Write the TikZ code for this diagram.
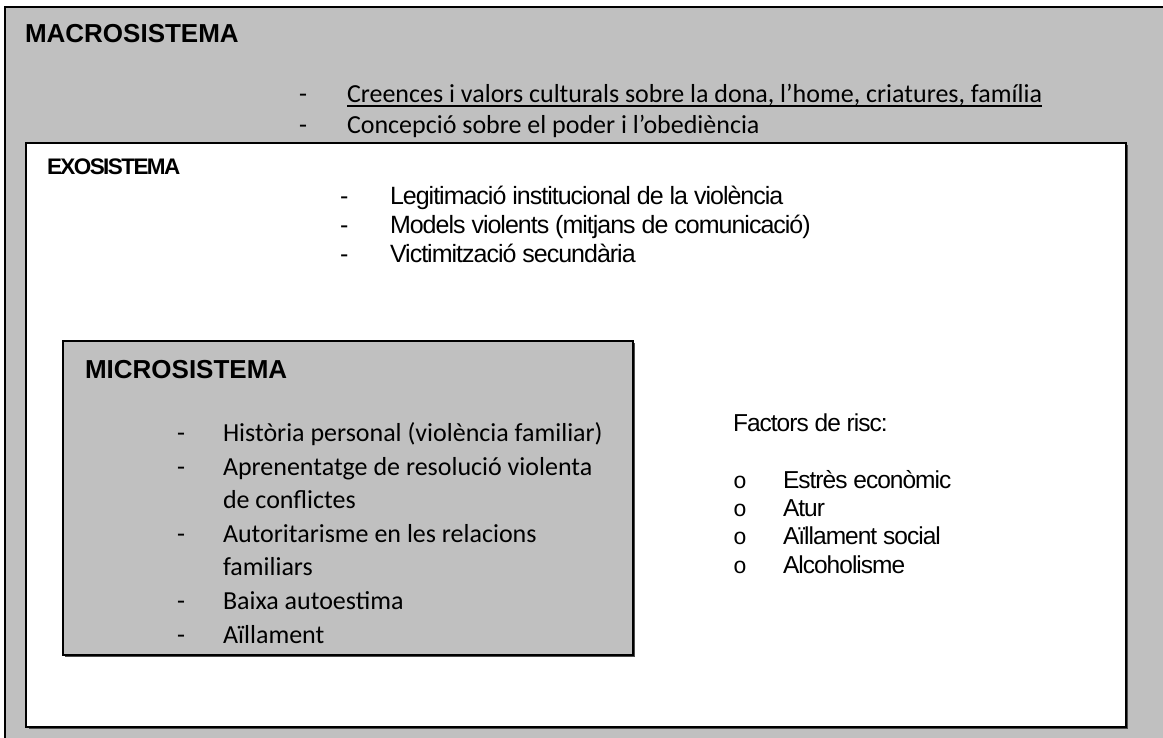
\documentclass[tikz,border=0pt]{standalone}
\usepackage{fontspec}
\setmainfont{Carlito}
\newfontfamily\arialfont{Liberation Sans}
\newfontfamily\monofont{Liberation Mono}
\newfontfamily\tightfont[LetterSpace=-4]{Liberation Sans}
\newfontfamily\tightbold[LetterSpace=-7]{Liberation Sans Bold}
\definecolor{boxgray}{RGB}{192,192,192}
\begin{document}
\begin{tikzpicture}[x=1pt,y=-1pt,
  txt/.style={anchor=base west, inner sep=0pt, outer sep=0pt},
  cal/.style={txt, font=\fontsize{26}{30}\selectfont},
  exo/.style={txt, font=\tightfont\fontsize{25}{29}\selectfont},
  fac/.style={txt, font=\tightfont\fontsize{24.5}{28}\selectfont},
  bul/.style={txt, font=\monofont\fontsize{23}{27}\selectfont},
  head/.style={txt, font=\arialfont\bfseries\fontsize{26}{30}\selectfont},
  boxline/.style={line width=1.2pt, draw=black}]
\useasboundingbox (0,0) rectangle (1163,737);
\begin{scope}
\clip (0,0) rectangle (1163,737);
\draw[boxline, fill=boxgray] (5,7) rectangle (1190,770);
\end{scope}
% exosistema box
\fill[black!70] (28.5,144.5) rectangle (1127.5,728.5);
\draw[boxline, fill=white] (26,143) rectangle (1126,727);
% microsistema box
\fill[black!70] (64.5,342.5) rectangle (634.5,656.5);
\draw[boxline, fill=boxgray] (63,341) rectangle (633,655);

% macro
\node[head] (macro) at (25,42) {MACROSISTEMA};
\node[cal] (md1) at (299,102) {-};
\node[cal] (m1) at (347,102) {Creences i valors culturals sobre la dona, l’home, criatures, família};
\draw[line width=1.3pt] ([yshift=-4pt]m1.base west) -- ([yshift=-4pt]m1.base east);
\node[cal] (md2) at (299,133) {-};
\node[cal] (m2) at (347,133) {Concepció sobre el poder i l’obediència};

% exo
\node[txt, font=\tightbold\fontsize{22.5}{26}\selectfont] (exo) at (47,174) {EXOSISTEMA};
\node[exo] (ed1) at (340,204) {-};
\node[exo] (e1) at (390,204) {Legitimació institucional de la violència};
\node[exo] (ed2) at (340,233) {-};
\node[exo] (e2) at (390,233) {Models violents (mitjans de comunicació)};
\node[exo] (ed3) at (340,262) {-};
\node[exo] (e3) at (390,262) {Victimització secundària};

% micro
\node[head] (micro) at (85,378) {MICROSISTEMA};
\node[cal] (cd1) at (177,441) {-};
\node[cal] (c1) at (223,441) {Història personal (violència familiar)};
\node[cal] (cd2) at (177,475) {-};
\node[cal] (c2) at (223,475) {Aprenentatge de resolució violenta};
\node[cal] (c2b) at (223,508) {de conflictes};
\node[cal] (cd3) at (177,542) {-};
\node[cal] (c3) at (223,542) {Autoritarisme en les relacions};
\node[cal] (c3b) at (223,575) {familiars};
\node[cal] (cd4) at (177,609) {-};
\node[cal] (c4) at (223,609) {Baixa autoestima};
\node[cal] (cd5) at (177,643) {-};
\node[cal] (c5) at (223,643) {Aïllament};

% factors
\node[fac] (fac) at (733,431) {Factors de risc:};
\node[bul] (fo1) at (733,488) {o};
\node[fac] (f1) at (783,488) {Estrès econòmic};
\node[bul] (fo2) at (733,516) {o};
\node[fac] (f2) at (783,516) {Atur};
\node[bul] (fo3) at (733,544) {o};
\node[fac] (f3) at (783,544) {Aïllament social};
\node[bul] (fo4) at (733,573) {o};
\node[fac] (f4) at (783,573) {Alcoholisme};
\end{tikzpicture}
\end{document}
